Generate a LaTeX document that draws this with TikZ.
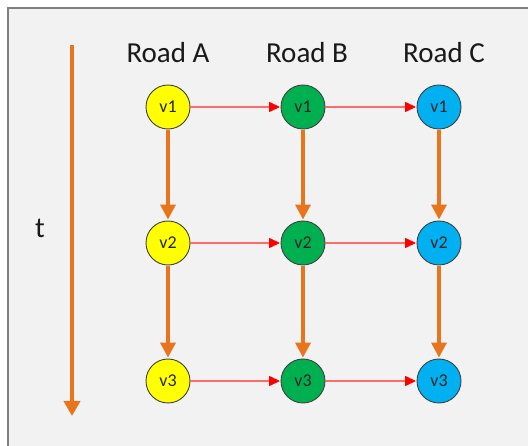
\documentclass[tikz,border=0pt]{standalone}
\usepackage{fontspec}
\setmainfont{Carlito}
\usetikzlibrary{arrows.meta}

\definecolor{panel}{HTML}{F2F2F2}
\definecolor{edge}{HTML}{7F7F7F}
\definecolor{timeline}{HTML}{E8741C}
\definecolor{roadA}{HTML}{FFFF00}
\definecolor{roadB}{HTML}{00B050}
\definecolor{roadC}{HTML}{00B0F0}
\definecolor{flow}{HTML}{FF6B6B}

\tikzset{
  vehicle/.style={circle, draw=black!75, line width=0.9pt, minimum size=44pt, inner sep=0pt, font=\fontsize{18}{18}\selectfont, text=black!85},
  roadname/.style={font=\fontsize{29}{29}\selectfont, text=black!90},
  timestep/.style={draw=timeline, line width=3.4pt, -{Triangle[width=15pt,length=15pt]}, shorten <=1pt, shorten >=1pt},
  handover/.style={draw=flow, line width=1.4pt, -{Triangle[width=10pt,length=11pt,color=red]}, shorten >=0.5pt}
}

\begin{document}
\begin{tikzpicture}[x=1pt, y=-1pt]
\useasboundingbox (0,0) rectangle (528,446);
\fill[white] (0,0) rectangle (528,446);
\draw[edge, fill=panel, line width=1.6pt] (8,8) rectangle (540,460);

% time axis
\coordinate (t0) at (72,45);
\coordinate (t1) at (72,416);
\draw[draw=timeline, line width=4.5pt, -{Triangle[width=16pt,length=15pt]}] (t0) -- (t1);
\node[roadname] (tlabel) at (40,228) {t};

% column headings
\node[roadname] (ra) at (168,53) {Road A};
\node[roadname] (rb) at (307,53) {Road B};
\node[roadname] (rc) at (444,53) {Road C};

% vehicles on each road
\node[vehicle, fill=roadA] (a1) at (168,107) {v1};
\node[vehicle, fill=roadA] (a2) at (168,243) {v2};
\node[vehicle, fill=roadA] (a3) at (168,381) {v3};
\node[vehicle, fill=roadB] (b1) at (303,107) {v1};
\node[vehicle, fill=roadB] (b2) at (303,243) {v2};
\node[vehicle, fill=roadB] (b3) at (303,381) {v3};
\node[vehicle, fill=roadC] (c1) at (439,107) {v1};
\node[vehicle, fill=roadC] (c2) at (439,243) {v2};
\node[vehicle, fill=roadC] (c3) at (439,381) {v3};

% down the roads
\draw[timestep] (a1) -- (a2);
\draw[timestep] (a2) -- (a3);
\draw[timestep] (b1) -- (b2);
\draw[timestep] (b2) -- (b3);
\draw[timestep] (c1) -- (c2);
\draw[timestep] (c2) -- (c3);

% across the roads
\draw[handover] (a1) -- (b1);
\draw[handover] (b1) -- (c1);
\draw[handover] (a2) -- (b2);
\draw[handover] (b2) -- (c2);
\draw[handover] (a3) -- (b3);
\draw[handover] (b3) -- (c3);
\end{tikzpicture}
\end{document}
